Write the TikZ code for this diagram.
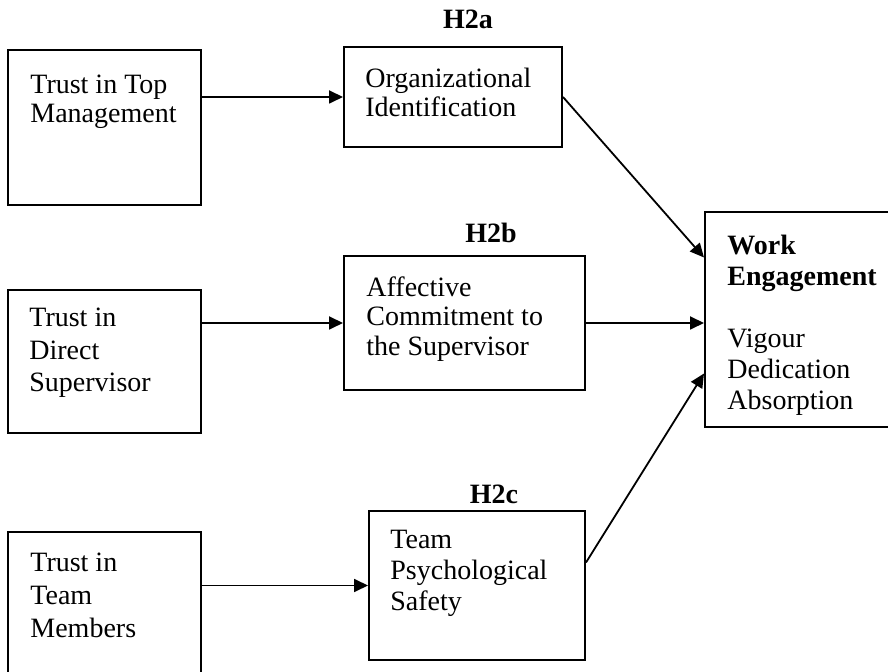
\documentclass[tikz,border=0pt]{standalone}
\usepackage{fontspec}
\setmainfont{Liberation Serif}
\usepackage{tikz}
\usetikzlibrary{arrows.meta,positioning,fit,calc}

\begin{document}
\begin{tikzpicture}[x=0.5pt,y=-0.5pt,
  box/.style={draw=black,line width=1pt,inner sep=0pt},
  txt/.style={anchor=north west,inner sep=0pt,align=left,font=\fontsize{14pt}{#1}\selectfont},
  txt/.default=15.5pt,
  hyp/.style={anchor=base,inner sep=0pt,font=\fontsize{14pt}{16pt}\selectfont\bfseries},
  arr/.style={-{Triangle[length=7pt,width=6.5pt]},line width=0.9pt}
]
\useasboundingbox (0,0) rectangle (888,672);
\fill[white] (0,0) rectangle (888,672);
\clip (0,0) rectangle (888,672);
\node[box,fit={(8,50) (201,205)}] (ttm) {};
\node[txt=14.5pt] (ttm-t) at (30,75) {Trust in Top\\Management};
\node[box,fit={(344,47) (562,147)}] (org) {};
\node[txt=14.5pt] (org-t) at (365,68) {Organizational\\Identification};
\node[box,fit={(8,290) (201,433)}] (tds) {};
\node[txt=16.25pt] (tds-t) at (29,308) {Trust in\\Direct\\Supervisor};
\node[box,fit={(344,256) (585,390)}] (acs) {};
\node[txt=14.75pt] (acs-t) at (366,276) {Affective\\Commitment to\\the Supervisor};
\node[box,fit={(8,532) (201,700)}] (ttem) {};
\node[txt=16.5pt] (ttem-t) at (30,553) {Trust in\\Team\\Members};
\node[box,fit={(369,511) (585,660)}] (tps) {};
\node[txt=15.5pt] (tps-t) at (390,530) {Team\\Psychological\\Safety};
\node[box,fit={(705,212) (900,427)}] (we) {};
\node[txt=15.5pt] (we-t) at (727,235) {\textbf{Work}\\\textbf{Engagement}\\[15.5pt]Vigour\\Dedication\\Absorption};
\node[hyp] (h2a) at (468,29) {H2a};
\node[hyp] (h2b) at (491,243) {H2b};
\node[hyp] (h2c) at (494,504) {H2c};
\draw[arr] (ttm.east |- org.west) -- (org.west);
\draw[arr] (tds.east |- acs.west) -- (acs.west);
\draw[arr] (ttem.east |- tps.west) -- (tps.west);
\draw[arr] (org.east) -- ($(we.west)+(0,-62)$);
\draw[arr] (acs.east) -- (we.west |- acs.east);
\draw[arr] ($(tps.east)+(0,-23)$) -- ($(we.west)+(0,54)$);
\end{tikzpicture}
\end{document}
